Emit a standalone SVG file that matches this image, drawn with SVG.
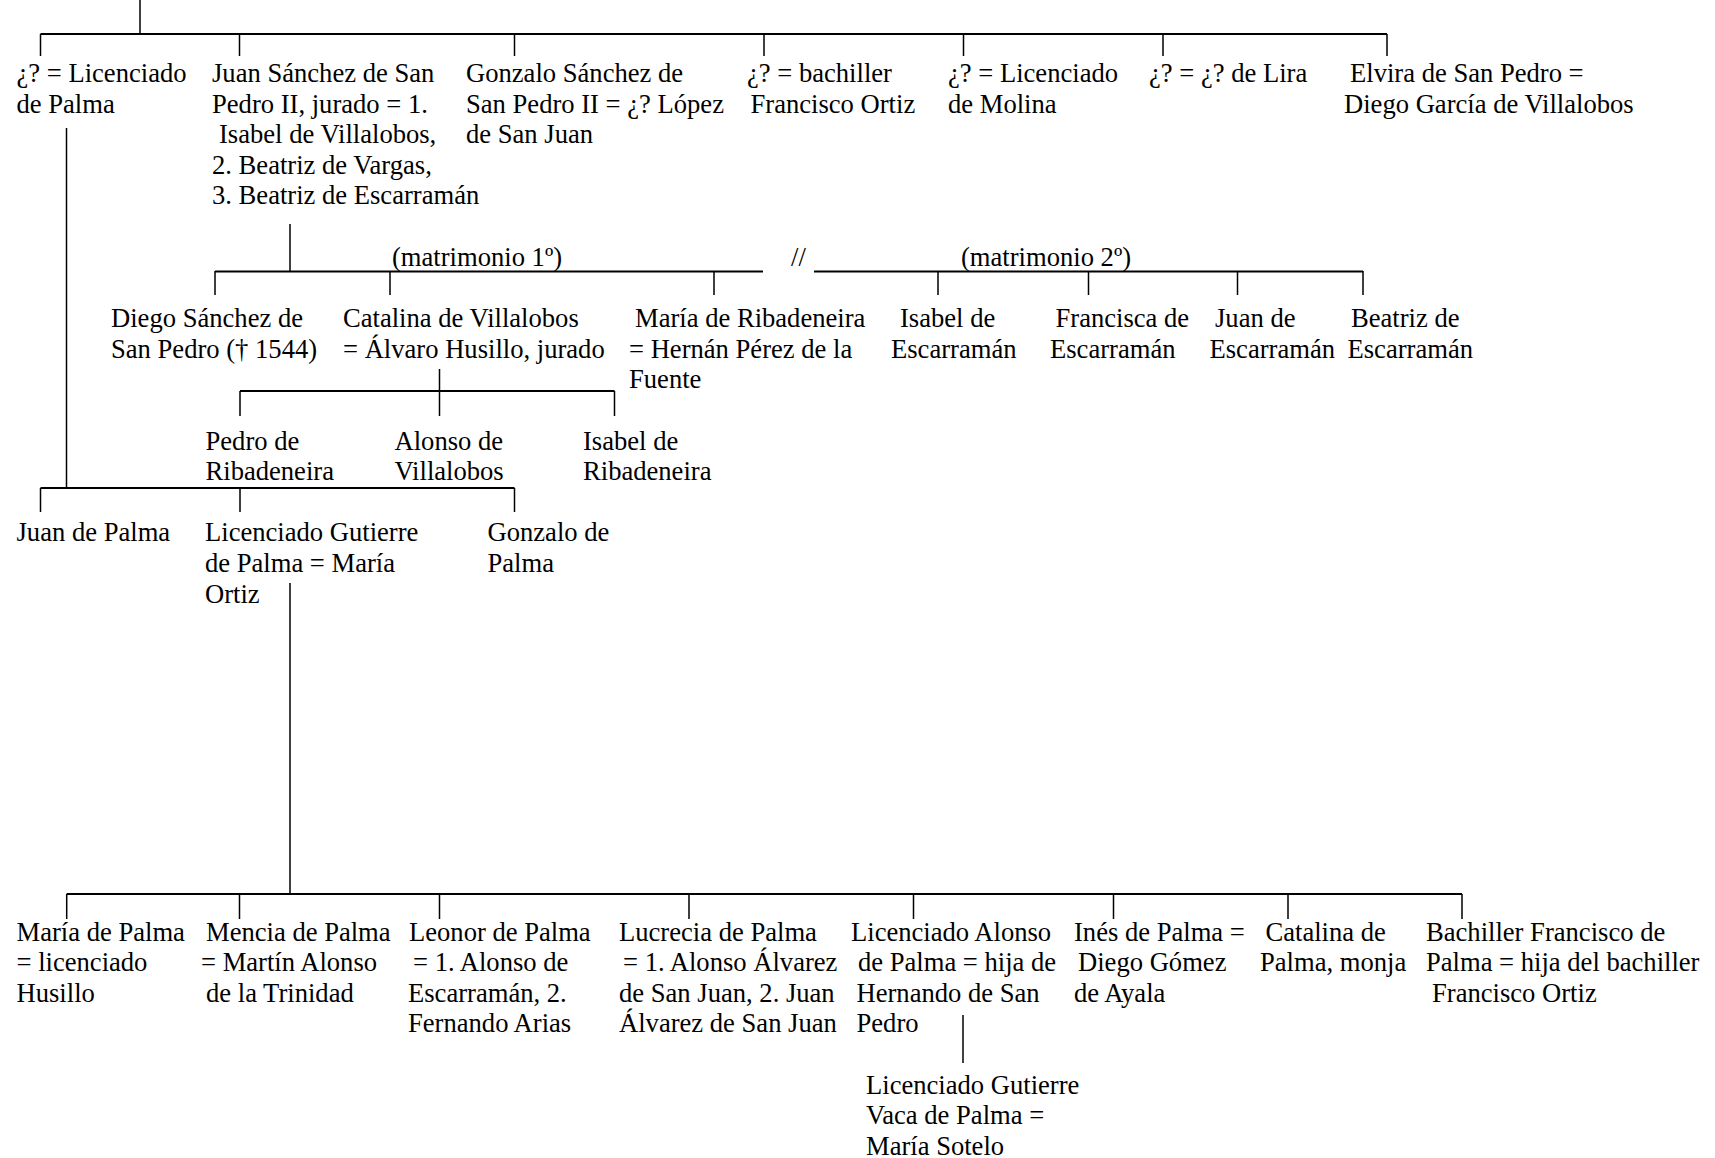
<svg xmlns="http://www.w3.org/2000/svg" width="1715" height="1158" viewBox="0 0 1715 1158">
<style>
text{font-family:"Liberation Serif","Times New Roman",serif;font-size:26.6px;fill:#000}
.h{stroke:#000;stroke-width:2;fill:none}
.v{stroke:#000;stroke-width:1.5;fill:none}
</style>
<rect width="1715" height="1158" fill="#fff"/>
<g id="connectors">
<path class="v" d="M140,0V34"/>
<path class="h" d="M40.5,34H1387"/>
<path class="v" d="M40.5,34V56M239.5,34V56M514.5,34V56M764,34V56M963.5,34V56M1163,34V56M1387,34V56"/>
<path class="v" d="M66.5,128V488"/>
<path class="v" d="M290,224V271"/>
<path class="h" d="M215,271.5H763M814,271.5H1363"/>
<path class="v" d="M215,271V295M390,271V295M714,271V295M938,271V295M1088.5,271V295M1237.5,271V295M1363,271V295"/>
<path class="v" d="M439.5,369V416"/>
<path class="h" d="M240,391H614.5"/>
<path class="v" d="M240,391V416M614.5,391V416"/>
<path class="h" d="M40.5,488H514.5"/>
<path class="v" d="M40.5,488V512M240,488V512M514.5,488V512"/>
<path class="v" d="M290,583V894"/>
<path class="h" d="M66.7,894H1462"/>
<path class="v" d="M66.7,894V919M239.5,894V919M439.5,894V919M689,894V919M913.5,894V919M1113.5,894V919M1288,894V919M1462,894V919"/>
<path class="v" d="M963,1015V1063"/>
</g>
<g id="labels">
<text x="392" y="265.5">(matrimonio 1º)</text>
<text x="791" y="265.5">//</text>
<text x="961" y="265.5">(matrimonio 2º)</text>
</g>
<g id="n-licenciado-palma"><text x="16.5" y="82">¿? = Licenciado</text><text x="16.5" y="112.6">de Palma</text></g>
<g id="n-juan-sanchez"><text x="212" y="82">Juan Sánchez de San</text><text x="212" y="112.6">Pedro II, jurado = 1.</text><text x="219" y="143.2">Isabel de Villalobos,</text><text x="212" y="173.8">2. Beatriz de Vargas,</text><text x="212" y="204.4">3. Beatriz de Escarramán</text></g>
<g id="n-gonzalo-sanchez"><text x="466" y="82">Gonzalo Sánchez de</text><text x="466" y="112.6">San Pedro II = ¿? López</text><text x="466" y="143.2">de San Juan</text></g>
<g id="n-bachiller-ortiz"><text x="747" y="82">¿? = bachiller</text><text x="750.5" y="112.6">Francisco Ortiz</text></g>
<g id="n-licenciado-molina"><text x="948" y="82">¿? = Licenciado</text><text x="948" y="112.6">de Molina</text></g>
<g id="n-lira"><text x="1149" y="82">¿? = ¿? de Lira</text></g>
<g id="n-elvira"><text x="1350" y="82">Elvira de San Pedro =</text><text x="1344" y="112.6">Diego García de Villalobos</text></g>
<g id="n-diego-sanchez"><text x="111" y="327">Diego Sánchez de</text><text x="111" y="357.6">San Pedro († 1544)</text></g>
<g id="n-catalina-villalobos"><text x="343" y="327">Catalina de Villalobos</text><text x="343" y="357.6">= Álvaro Husillo, jurado</text></g>
<g id="n-maria-ribadeneira"><text x="635" y="327">María de Ribadeneira</text><text x="629" y="357.6">= Hernán Pérez de la</text><text x="629" y="388.2">Fuente</text></g>
<g id="n-isabel-escarraman"><text x="900" y="327">Isabel de</text><text x="891" y="357.6">Escarramán</text></g>
<g id="n-francisca-escarraman"><text x="1055.5" y="327">Francisca de</text><text x="1050" y="357.6">Escarramán</text></g>
<g id="n-juan-escarraman"><text x="1215" y="327">Juan de</text><text x="1209.5" y="357.6">Escarramán</text></g>
<g id="n-beatriz-escarraman"><text x="1351" y="327">Beatriz de</text><text x="1347.5" y="357.6">Escarramán</text></g>
<g id="n-pedro-ribadeneira"><text x="205.5" y="449.5">Pedro de</text><text x="205.5" y="480.1">Ribadeneira</text></g>
<g id="n-alonso-villalobos"><text x="394.5" y="449.5">Alonso de</text><text x="394.5" y="480.1">Villalobos</text></g>
<g id="n-isabel-ribadeneira"><text x="583" y="449.5">Isabel de</text><text x="583" y="480.1">Ribadeneira</text></g>
<g id="n-juan-palma"><text x="16.5" y="541.4">Juan de Palma</text></g>
<g id="n-gutierre-palma"><text x="205" y="541.4">Licenciado Gutierre</text><text x="205" y="572">de Palma = María</text><text x="205" y="602.6">Ortiz</text></g>
<g id="n-gonzalo-palma"><text x="487.5" y="541.4">Gonzalo de</text><text x="487.5" y="572">Palma</text></g>
<g id="n-maria-palma"><text x="16.5" y="940.6">María de Palma</text><text x="16.5" y="971.2">= licenciado</text><text x="16.5" y="1001.8">Husillo</text></g>
<g id="n-mencia-palma"><text x="206" y="940.6">Mencia de Palma</text><text x="201" y="971.2">= Martín Alonso</text><text x="206" y="1001.8">de la Trinidad</text></g>
<g id="n-leonor-palma"><text x="409" y="940.6">Leonor de Palma</text><text x="413" y="971.2">= 1. Alonso de</text><text x="408" y="1001.8">Escarramán, 2.</text><text x="408" y="1032.4">Fernando Arias</text></g>
<g id="n-lucrecia-palma"><text x="619" y="940.6">Lucrecia de Palma</text><text x="623" y="971.2">= 1. Alonso Álvarez</text><text x="619" y="1001.8">de San Juan, 2. Juan</text><text x="619" y="1032.4">Álvarez de San Juan</text></g>
<g id="n-alonso-palma"><text x="851" y="940.6">Licenciado Alonso</text><text x="858" y="971.2">de Palma = hija de</text><text x="856.5" y="1001.8">Hernando de San</text><text x="856.5" y="1032.4">Pedro</text></g>
<g id="n-ines-palma"><text x="1074" y="940.6">Inés de Palma =</text><text x="1078" y="971.2">Diego Gómez</text><text x="1074" y="1001.8">de Ayala</text></g>
<g id="n-catalina-palma"><text x="1265.5" y="940.6">Catalina de</text><text x="1260" y="971.2">Palma, monja</text></g>
<g id="n-francisco-palma"><text x="1426" y="940.6">Bachiller Francisco de</text><text x="1426" y="971.2">Palma = hija del bachiller</text><text x="1432" y="1001.8">Francisco Ortiz</text></g>
<g id="n-gutierre-vaca"><text x="866" y="1093.7">Licenciado Gutierre</text><text x="866" y="1124.3">Vaca de Palma =</text><text x="866" y="1154.9">María Sotelo</text></g>
</svg>
